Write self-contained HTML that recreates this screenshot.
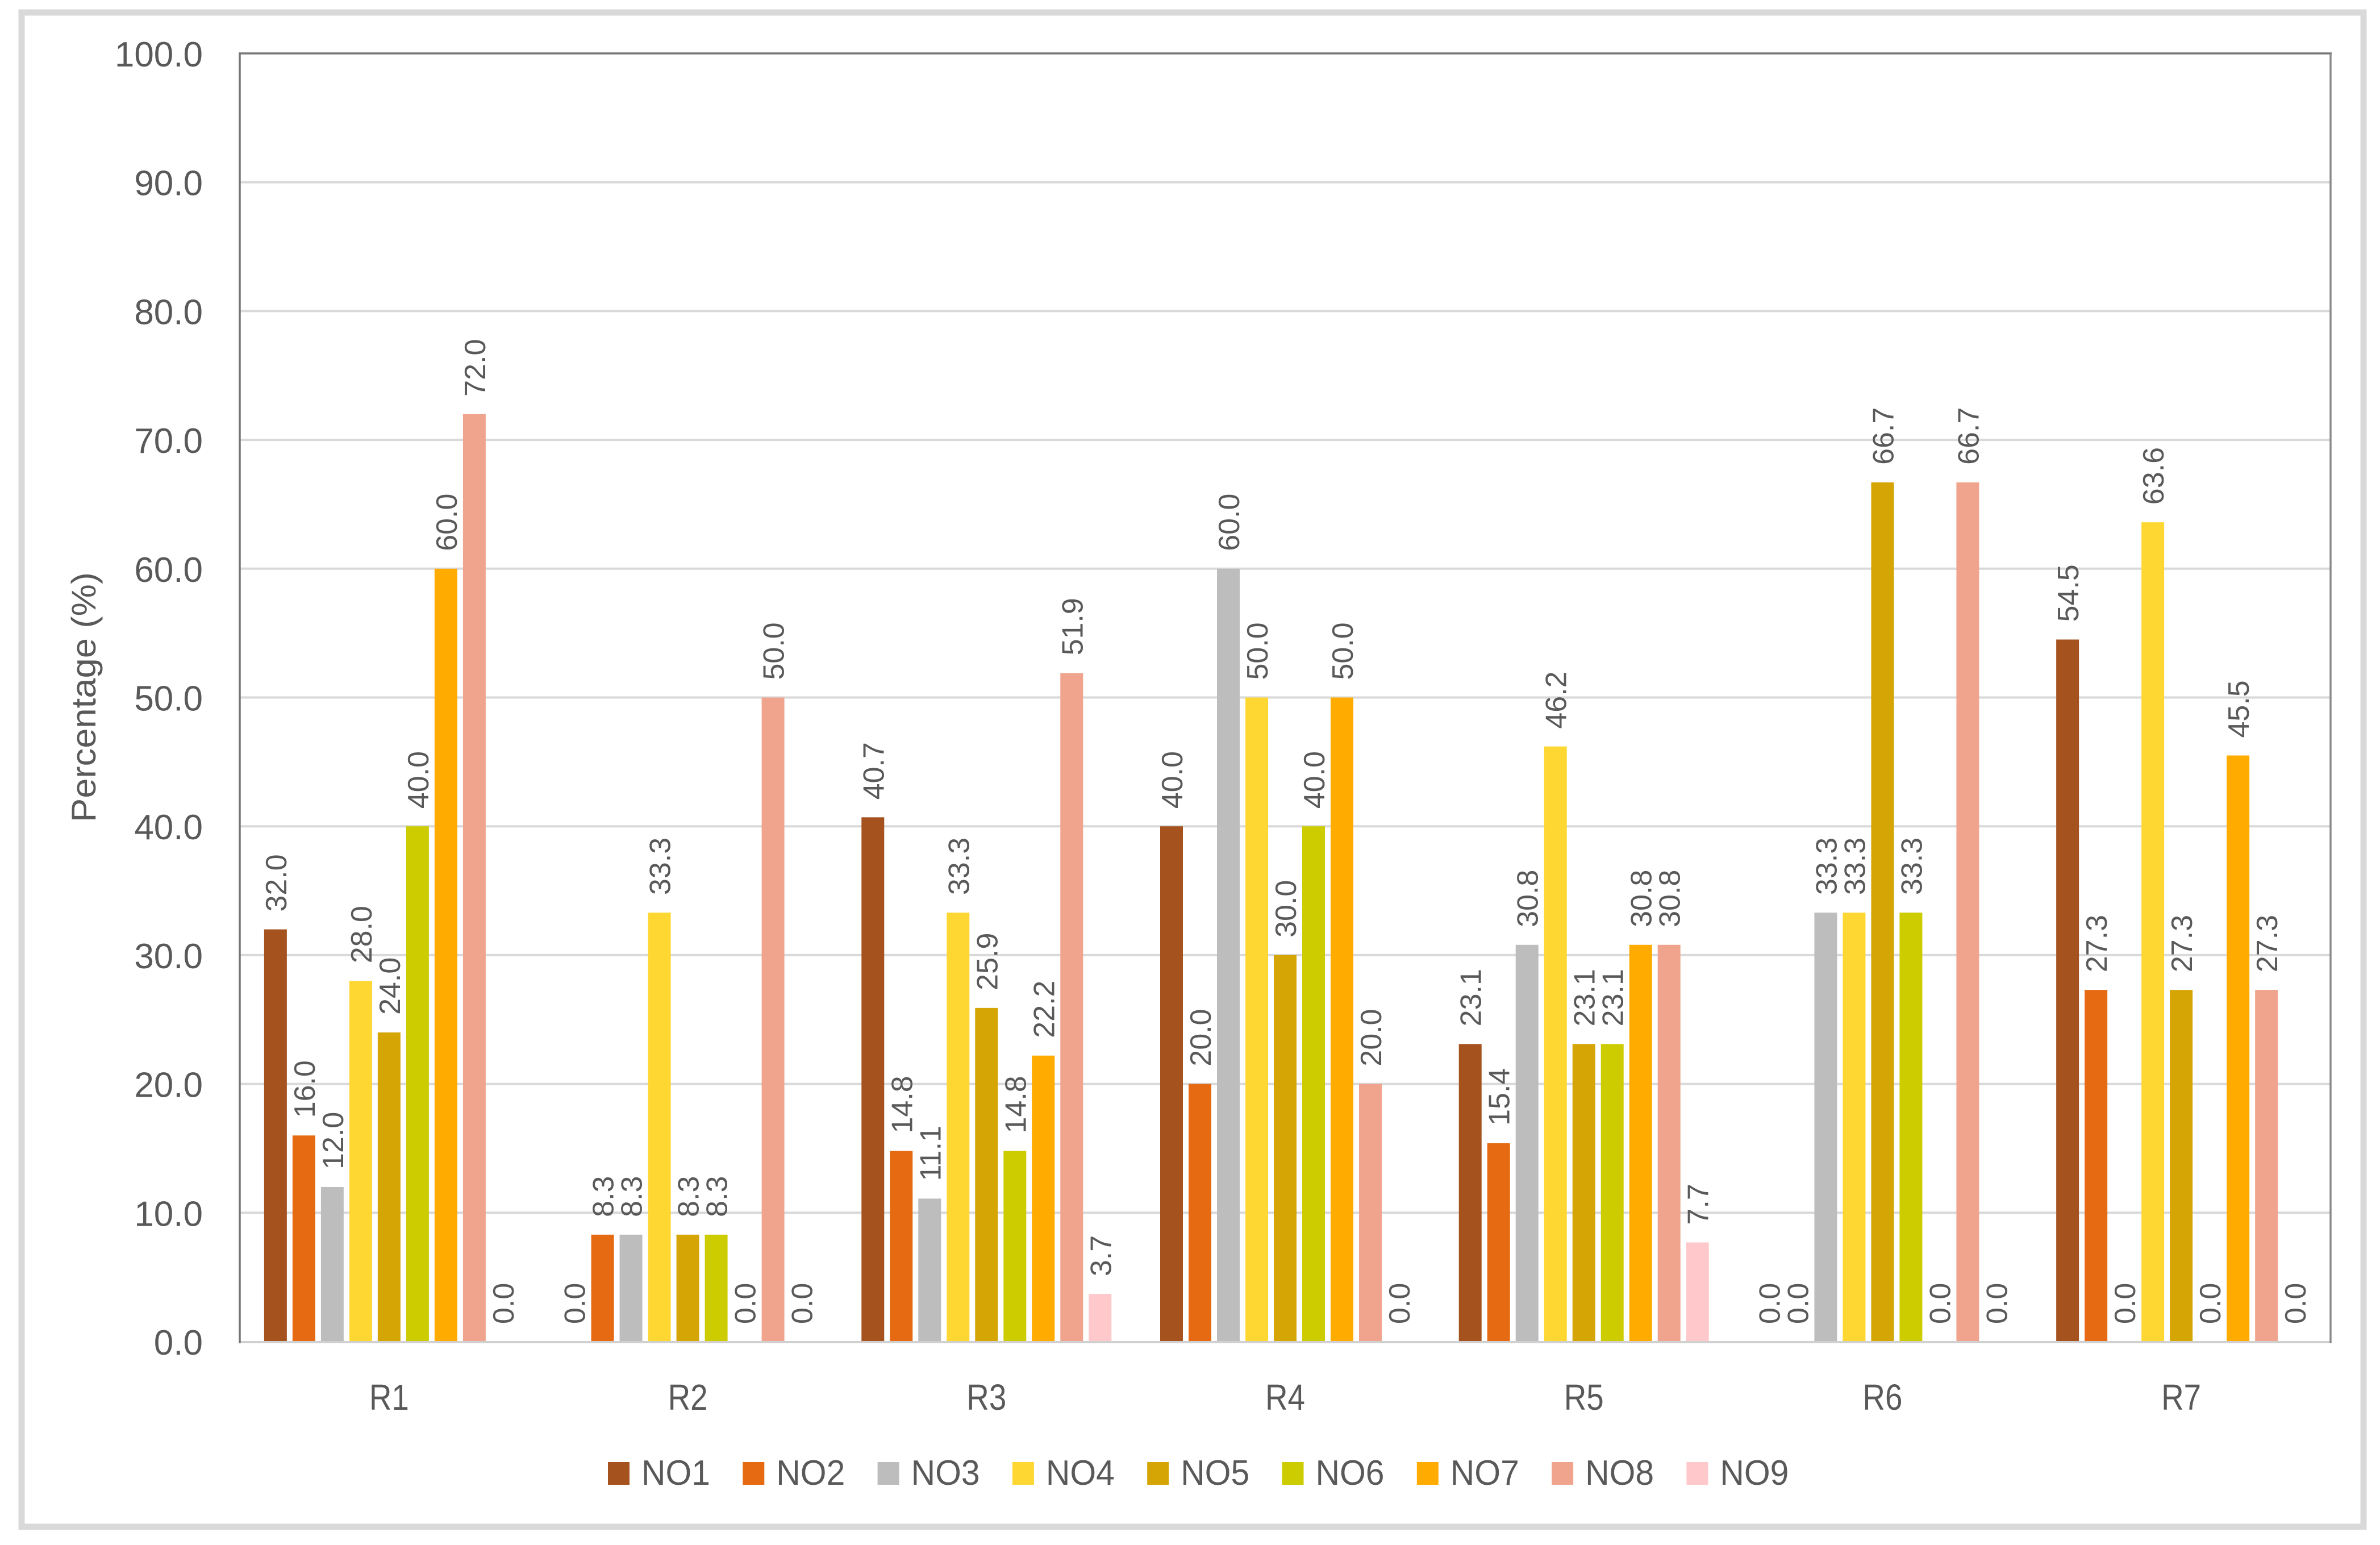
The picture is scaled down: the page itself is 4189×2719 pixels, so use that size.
<!DOCTYPE html>
<html lang="en">
<head>
<meta charset="utf-8">
<title>Percentage by region</title>
<style>
html,body{margin:0;padding:0;background:#fff;width:4189px;height:2719px;overflow:hidden}
svg{display:block}
text{font-family:"Liberation Sans",sans-serif;fill:#595959}
</style>
</head>
<body>
<svg id="chart" xmlns="http://www.w3.org/2000/svg" width="4189" height="2719" viewBox="0 0 4189 2719">
  <rect x="0" y="0" width="4189" height="2719" fill="#fff"/>
  <rect x="38" y="22" width="4122" height="2665" fill="#fff" stroke="#d9d9d9" stroke-width="11"/>
  <g id="grid"></g>
  <g id="bars"></g>
  <g id="border"></g>
  <g id="valueLabels"></g>
  <g id="yTicks"></g>
  <g id="xTicks"></g>
  <text transform="translate(168,1447) rotate(-90)" font-size="60" textLength="440" lengthAdjust="spacingAndGlyphs">Percentage (%)</text>
  <g id="legend"></g>
</svg>
<script>
const categories = ["R1", "R2", "R3", "R4", "R5", "R6", "R7"];
const seriesNames = ["NO1", "NO2", "NO3", "NO4", "NO5", "NO6", "NO7", "NO8", "NO9"];
const yTickLabels = [0, 10, 20, 30, 40, 50, 60, 70, 80, 90, 100];
const no1Values = [32.0, 0.0, 40.7, 40.0, 23.1, 0.0, 54.5];
const no2Values = [16.0, 8.3, 14.8, 20.0, 15.4, 0.0, 27.3];
const no3Values = [12.0, 8.3, 11.1, 60.0, 30.8, 33.3, 0.0];
const no4Values = [28.0, 33.3, 33.3, 50.0, 46.2, 33.3, 63.6];
const no5Values = [24.0, 8.3, 25.9, 30.0, 23.1, 66.7, 27.3];
const no6Values = [40.0, 8.3, 14.8, 40.0, 23.1, 33.3, 0.0];
const no7Values = [60.0, 0.0, 22.2, 50.0, 30.8, 0.0, 45.5];
const no8Values = [72.0, 50.0, 51.9, 20.0, 30.8, 66.7, 27.3];
const no9Values = [0.0, 0.0, 3.7, 0.0, 7.7, 0.0, 0.0];
const seriesColors = ["#a5521e", "#e56a12", "#bdbdbd", "#ffd733", "#d5a506", "#cccc00", "#ffab00", "#f1a48d", "#ffc9cb"];

const allSeries = [no1Values, no2Values, no3Values, no4Values, no5Values, no6Values, no7Values, no8Values, no9Values];
const NS = "http://www.w3.org/2000/svg";
const plotLeft = 422, plotRight = 4102, plotTop = 94, plotBottom = 2361;
const yMin = 0, yMax = 100;
const barWidth = 40, barPitch = 50;

function yScale(v) {
  return plotBottom - (v - yMin) / (yMax - yMin) * (plotBottom - plotTop);
}
function categoryCenter(i) {
  return plotLeft + (i + 0.5) * (plotRight - plotLeft) / categories.length;
}
function barLeft(catIndex, seriesIndex) {
  const groupWidth = barPitch * allSeries.length - (barPitch - barWidth);
  return categoryCenter(catIndex) - groupWidth / 2 + seriesIndex * barPitch;
}
function make(tag, attrs, parent, txt) {
  const el = document.createElementNS(NS, tag);
  for (const k in attrs) el.setAttribute(k, attrs[k]);
  if (txt !== undefined) el.textContent = txt;
  parent.appendChild(el);
  return el;
}

const gridG = document.getElementById("grid");
const barsG = document.getElementById("bars");
const borderG = document.getElementById("border");
const valueG = document.getElementById("valueLabels");
const yTicksG = document.getElementById("yTicks");
const xTicksG = document.getElementById("xTicks");
const legendG = document.getElementById("legend");

yTickLabels.forEach(function (t) {
  const y = yScale(t);
  if (t > yMin && t < yMax) {
    const line = make("line", {x1: plotLeft, x2: plotRight, y1: y, y2: y, stroke: "#d9d9d9", "stroke-width": 4}, gridG);
    
    
  }
  const label = make("text", {x: 357, y: y + 23, "text-anchor": "end", "font-size": 62}, yTicksG, t.toFixed(1));
  
  
});

allSeries.forEach(function (values, s) {
  values.forEach(function (v, c) {
    const x = barLeft(c, s);
    const top = yScale(v);
    if (v > 0) {
      const bar = make("rect", {x: x, y: top, width: barWidth, height: plotBottom - top, fill: seriesColors[s]}, barsG);
      
      
    }
    const lx = x + barWidth / 2 + 19;
    const ly = top - 31;
    const valueLabel = make("text", {transform: "translate(" + lx + "," + ly + ") rotate(-90)", "font-size": 52}, valueG, v.toFixed(1));
    
    
  });
});

const bottomAxis = make("line", {x1: plotLeft, x2: plotRight, y1: plotBottom + 1, y2: plotBottom + 1, stroke: "#d0d0d0", "stroke-width": 4}, borderG);


const topAxis = make("line", {x1: plotLeft - 2, x2: plotRight + 2, y1: plotTop, y2: plotTop, stroke: "#767676", "stroke-width": 3.5}, borderG);


const leftAxis = make("line", {x1: plotLeft, x2: plotLeft, y1: plotTop, y2: plotBottom + 3, stroke: "#767676", "stroke-width": 3.5}, borderG);


const rightAxis = make("line", {x1: plotRight, x2: plotRight, y1: plotTop, y2: plotBottom + 3, stroke: "#8a8a8a", "stroke-width": 3.5}, borderG);



categories.forEach(function (name, i) {
  const label = make("text", {x: categoryCenter(i), y: 2481, "text-anchor": "middle", "font-size": 64, textLength: 70, lengthAdjust: "spacingAndGlyphs"}, xTicksG, name);
  
  
});

seriesNames.forEach(function (name, i) {
  const x = 1070 + i * 237.3;
  const swatch = make("rect", {x: x, y: 2573, width: 38, height: 40, fill: seriesColors[i]}, legendG);
  
  
  const label = make("text", {x: x + 59, y: 2613, "font-size": 62, textLength: 121, lengthAdjust: "spacingAndGlyphs"}, legendG, name);
  
  
});
</script>
</body>
</html>
